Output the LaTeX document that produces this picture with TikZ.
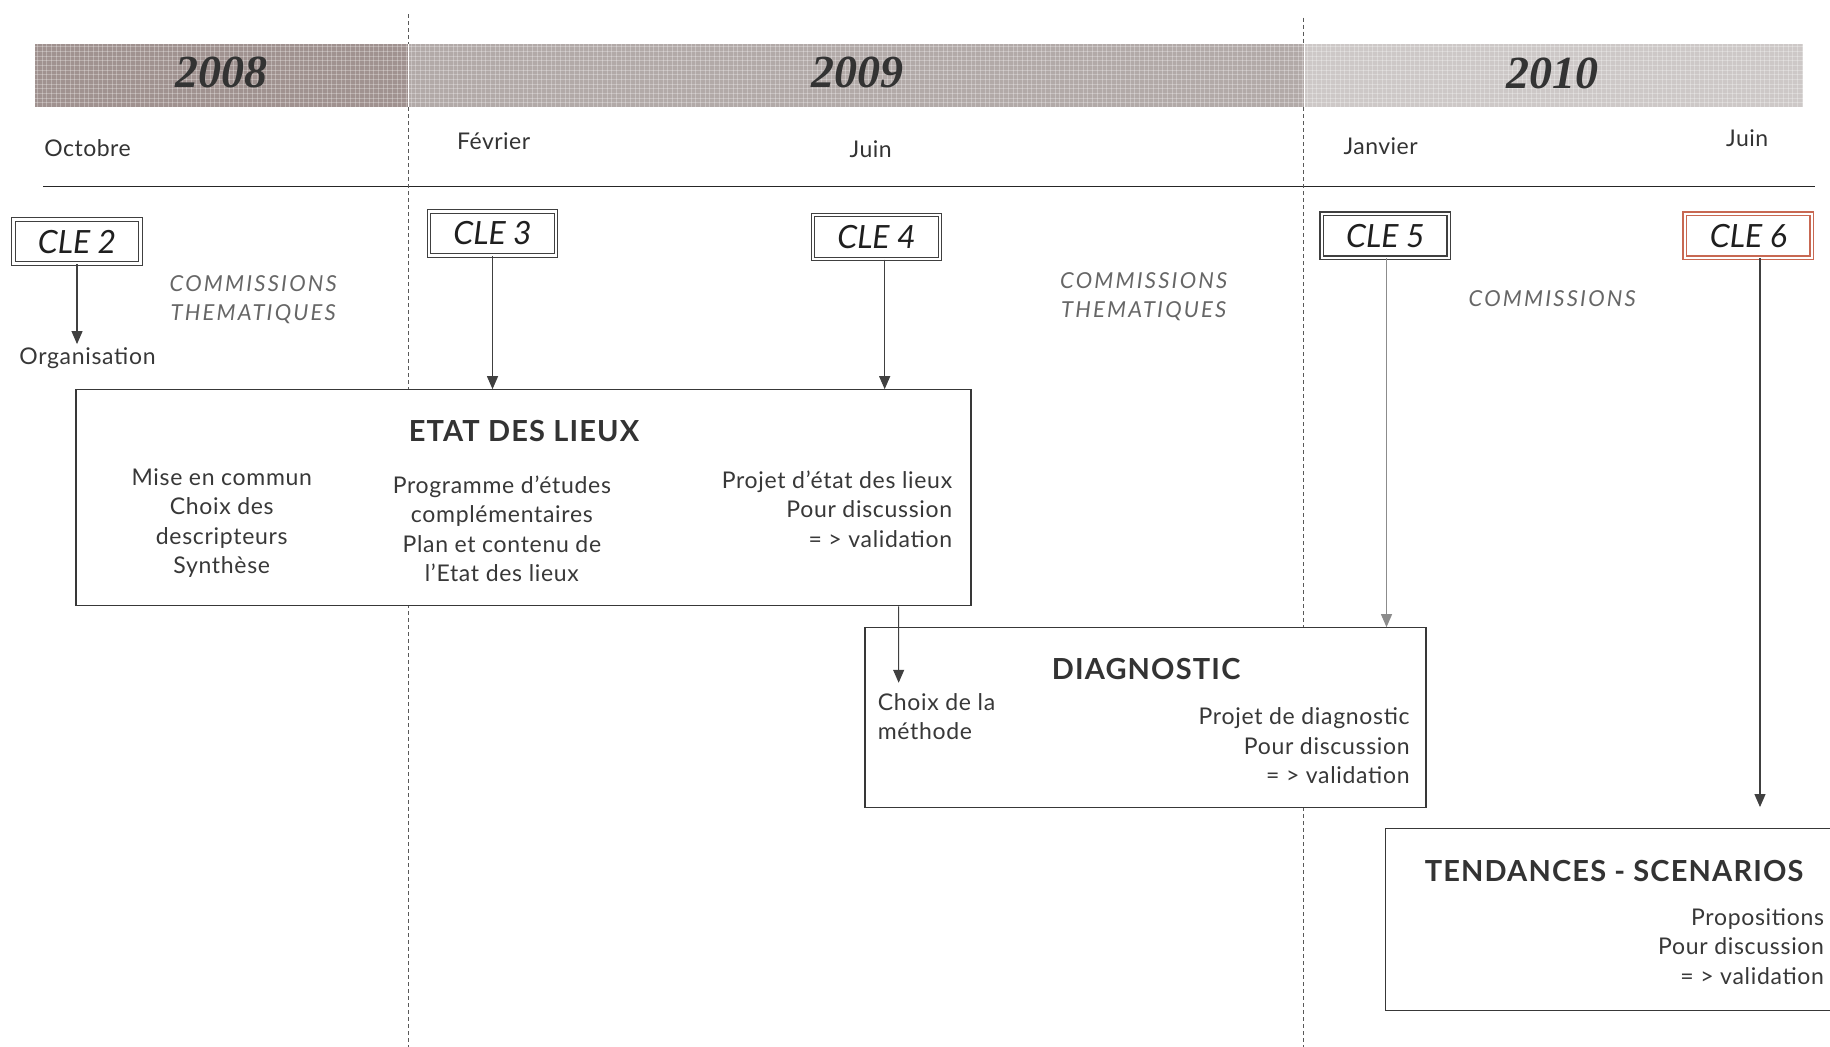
\documentclass[tikz,border=0pt]{standalone}
\usepackage{fontspec}
\setmainfont{Lato}
\newfontfamily\yearfont{Liberation Serif}
\usetikzlibrary{arrows.meta,calc}
\definecolor{cA}{RGB}{160,146,144}
\definecolor{cB}{RGB}{178,170,168}
\definecolor{cC}{RGB}{205,200,199}
\definecolor{cleRed}{RGB}{200,104,82}
\begin{document}
\begin{tikzpicture}[x=1.1671pt,y=-1.1671pt,
  year/.style={font=\yearfont\fontsize{46}{50}\selectfont\bfseries\itshape, text=black!80},
  month/.style={font=\fontsize{23}{26}\selectfont\addfontfeature{LetterSpace=2}, text=black!80},
  clebox/.style={draw=black!75, line width=1.3pt, double=white, double distance=2.2pt,
     fill=white, minimum width=127pt, minimum height=44pt, inner sep=0pt,
     font=\fontsize{32}{34}\selectfont\itshape, text=black!88},
  comm/.style={font=\fontsize{22}{29}\selectfont\itshape\addfontfeature{LetterSpace=10}, text=black!60, align=center},
  body/.style={font=\fontsize{23}{29.5}\selectfont\addfontfeature{LetterSpace=3}, text=black!78, inner sep=0pt},
  ttl/.style={font=\fontsize{29}{32}\selectfont\bfseries\addfontfeature{LetterSpace=4}, text=black!80},
  bigbox/.style={draw=black!78, line width=1.2pt, fill=white, inner sep=0pt},
  arr/.style={draw=black!75, line width=1.1pt, -{Triangle[length=13pt,width=11pt]}},
  vdash/.style={draw=black!65, line width=1pt, dash pattern=on 4pt off 3pt}
]
\useasboundingbox (0,0) rectangle (1568,897);
% header bar
\fill[cA] (30,38) rectangle (350,92);
\fill[cB] (350,38) rectangle (1118,92);
\fill[cC] (1118,38) rectangle (1545,92);
\foreach \i in {32,36,...,1544} \draw[white,opacity=.28,line width=.5pt] (\i,38)--(\i,92);
\foreach \j in {40,44,...,90} \draw[white,opacity=.28,line width=.5pt] (30,\j)--(1545,\j);
\draw[white,line width=1pt] (350,38)--(350,92) (1118,38)--(1118,92);
\node[year] (y8) at (190,62) {2008};
\node[year] (y9) at (735,62) {2009};
\node[year] (y10) at (1330,63) {2010};
% months
\node[month] (m1) at (75,127) {Octobre};
\node[month] (m2) at (423,121) {Février};
\node[month] (m3) at (746,128) {Juin};
\node[month] (m4) at (1183,125) {Janvier};
\node[month] (m5) at (1497,118) {Juin};
\draw[black!85,line width=1.2pt] (37,160)--(1555,160);
% dashed
\draw[vdash] (350,12)--(350,38) (350,92)--(350,897);
\draw[vdash] (1117,15)--(1117,38) (1117,92)--(1117,897);
% CLE boxes
\node[clebox] (cle2) at (66,207) {CLE 2};
\node[clebox] (cle3) at (422,200) {CLE 3};
\node[clebox] (cle4) at (751,203) {CLE 4};
\node[clebox] (cle5) at (1187,202) {CLE 5};
\node[clebox, draw=cleRed] (cle6) at (1498,202) {CLE 6};
% commissions
\node[comm] (com1) at (217,257) {COMMISSIONS\\THEMATIQUES};
\node[comm] (com2) at (980,254) {COMMISSIONS\\THEMATIQUES};
\node[comm] (com3) at (1330,256) {COMMISSIONS};
\node[body] (org) at (75,307) {Organisation};
% big boxes
\node[bigbox, minimum width=895pt, minimum height=216pt] (etat) at (448.5,426.5) {};
\node[bigbox, minimum width=561pt, minimum height=180pt] (diag) at (981.5,615) {};
\node[bigbox, minimum width=465pt, minimum height=182pt] (tend) at (1386,788) {};
% etat texts
\node[ttl] (etatT) at (449,369) {ETAT DES LIEUX};
\node[body, align=center] (e1) at (190,448) {Mise en commun\\Choix des\\descripteurs\\Synthèse};
\node[body, align=center] (e2) at (430,453) {Programme d’études\\complémentaires\\Plan et contenu de\\l’Etat des lieux};
\node[body, align=right, anchor=east] (e3) at (816,436) {Projet d’état des lieux\\Pour discussion\\= > validation};
% diag texts
\node[ttl] (diagT) at (982,573) {DIAGNOSTIC};
\node[body, align=left, anchor=north west] (choix) at (752,594) {Choix de la\\méthode};
\node[body, align=right, anchor=east] (d2) at (1208,639) {Projet de diagnostic\\Pour discussion\\= > validation};
% tend texts
\node[ttl] (tendT) at (1383,746) {TENDANCES - SCENARIOS};
\node[body, align=right, anchor=east] (t2) at (1563,811) {Propositions\\Pour discussion\\= > validation};
% arrows
\draw[arr] (cle2.south) -- ($(org.north)+(-9,-3)$);
\draw[arr] (cle3.south) -- (cle3.south |- etat.north);
\draw[arr] ($(cle4.south)+(7,0)$) -- ($(cle4.south |- etat.north)+(7,0)$);
\draw[arr] ($(etat.south)+(321.5,0)$) -- ($(choix.north west)+(18,-9)$);
\draw[arr, draw=black!45] ($(cle5.south)+(1,0)$) -- ($(cle5.south |- diag.north)+(1,0)$);
\draw[arr] ($(cle6.south)+(10,0)$) -- ($(cle6.south |- tend.north)+(10,-18)$);
\end{tikzpicture}
\end{document}
